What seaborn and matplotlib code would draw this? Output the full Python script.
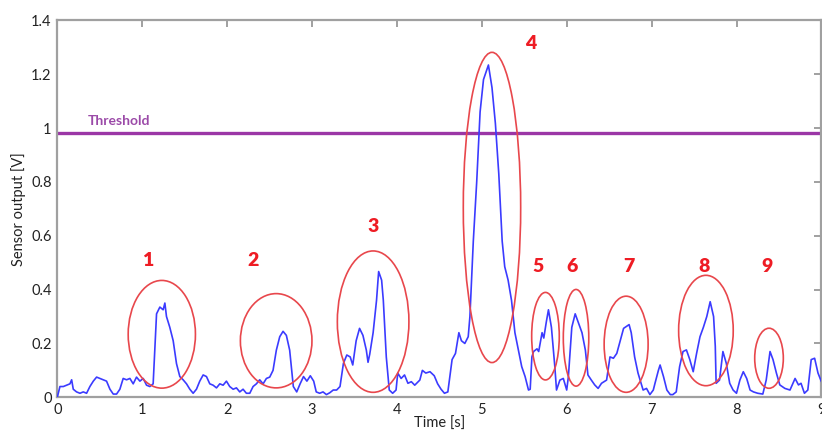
import matplotlib
matplotlib.use("Agg")
import matplotlib.pyplot as plt
from matplotlib.patches import Ellipse
import seaborn as sns
import pandas as pd

# ---- data ----
time_s = [
    0.000, 0.031, 0.071, 0.110, 0.149, 0.169, 0.188, 0.227, 0.267, 0.306, 0.345, 0.384, 0.424, 0.463,
    0.502, 0.541, 0.580, 0.620, 0.659, 0.698, 0.737, 0.776, 0.816, 0.855, 0.894, 0.933, 0.973, 1.012,
    1.051, 1.090, 1.129, 1.169, 1.208, 1.247, 1.267, 1.286, 1.325, 1.365, 1.404, 1.443, 1.482, 1.522,
    1.561, 1.600, 1.639, 1.678, 1.718, 1.757, 1.796, 1.835, 1.875, 1.914, 1.953, 1.992, 2.031, 2.071,
    2.110, 2.149, 2.188, 2.227, 2.267, 2.306, 2.345, 2.384, 2.424, 2.463, 2.502, 2.541, 2.580, 2.620,
    2.659, 2.698, 2.737, 2.780, 2.820, 2.860, 2.900, 2.940, 2.980, 3.020, 3.050, 3.090, 3.130, 3.170,
    3.210, 3.250, 3.290, 3.330, 3.370, 3.410, 3.450, 3.480, 3.520, 3.560, 3.600, 3.640, 3.660, 3.680,
    3.720, 3.760, 3.785, 3.820, 3.840, 3.875, 3.910, 3.950, 3.990, 4.010, 4.050, 4.090, 4.130, 4.170,
    4.210, 4.270, 4.300, 4.340, 4.390, 4.440, 4.480, 4.520, 4.560, 4.600, 4.650, 4.690, 4.730, 4.760,
    4.800, 4.840, 4.860, 4.900, 4.940, 4.980, 5.020, 5.078, 5.120, 5.160, 5.200, 5.240, 5.270, 5.310,
    5.350, 5.390, 5.430, 5.470, 5.510, 5.550, 5.570, 5.590, 5.610, 5.650, 5.670, 5.710, 5.730, 5.760,
    5.785, 5.820, 5.860, 5.880, 5.920, 5.960, 6.000, 6.020, 6.060, 6.100, 6.140, 6.180, 6.220, 6.250,
    6.290, 6.330, 6.370, 6.410, 6.470, 6.510, 6.550, 6.590, 6.630, 6.670, 6.735, 6.760, 6.800, 6.840,
    6.900, 6.940, 6.980, 7.020, 7.040, 7.080, 7.100, 7.140, 7.180, 7.220, 7.250, 7.290, 7.330, 7.370,
    7.410, 7.450, 7.490, 7.530, 7.570, 7.610, 7.650, 7.690, 7.730, 7.750, 7.760, 7.800, 7.840, 7.880,
    7.920, 7.960, 8.000, 8.040, 8.080, 8.120, 8.160, 8.200, 8.250, 8.310, 8.350, 8.395, 8.430, 8.470,
    8.510, 8.570, 8.630, 8.690, 8.730, 8.760, 8.800, 8.840, 8.880, 8.920, 8.960, 9.000,
]
output_v = [
    0.000, 0.040, 0.040, 0.045, 0.050, 0.065, 0.030, 0.020, 0.015, 0.020, 0.015, 0.040, 0.060, 0.075,
    0.070, 0.065, 0.060, 0.030, 0.012, 0.012, 0.030, 0.070, 0.065, 0.070, 0.050, 0.075, 0.060, 0.070,
    0.045, 0.040, 0.050, 0.310, 0.335, 0.325, 0.350, 0.300, 0.260, 0.210, 0.125, 0.077, 0.065, 0.050,
    0.030, 0.015, 0.030, 0.060, 0.083, 0.077, 0.050, 0.045, 0.035, 0.050, 0.045, 0.060, 0.040, 0.030,
    0.035, 0.020, 0.030, 0.015, 0.015, 0.040, 0.050, 0.065, 0.050, 0.070, 0.075, 0.100, 0.175, 0.225,
    0.245, 0.230, 0.175, 0.040, 0.020, 0.050, 0.077, 0.060, 0.080, 0.060, 0.020, 0.015, 0.020, 0.010,
    0.017, 0.027, 0.027, 0.040, 0.126, 0.157, 0.150, 0.120, 0.210, 0.256, 0.230, 0.175, 0.130, 0.160,
    0.240, 0.360, 0.467, 0.435, 0.360, 0.150, 0.027, 0.015, 0.027, 0.090, 0.070, 0.083, 0.052, 0.058,
    0.045, 0.064, 0.100, 0.090, 0.095, 0.080, 0.050, 0.030, 0.015, 0.020, 0.140, 0.163, 0.240, 0.210,
    0.200, 0.225, 0.300, 0.580, 0.800, 1.060, 1.180, 1.234, 1.150, 1.017, 0.830, 0.580, 0.485, 0.435,
    0.360, 0.240, 0.176, 0.114, 0.077, 0.027, 0.030, 0.150, 0.170, 0.180, 0.170, 0.240, 0.220, 0.280,
    0.325, 0.260, 0.114, 0.027, 0.064, 0.070, 0.027, 0.077, 0.260, 0.310, 0.275, 0.240, 0.175, 0.083,
    0.064, 0.046, 0.033, 0.052, 0.064, 0.150, 0.145, 0.163, 0.210, 0.256, 0.270, 0.240, 0.150, 0.090,
    0.027, 0.033, 0.010, 0.027, 0.052, 0.100, 0.120, 0.077, 0.027, 0.010, 0.010, 0.020, 0.114, 0.170,
    0.176, 0.140, 0.095, 0.163, 0.225, 0.260, 0.300, 0.355, 0.300, 0.190, 0.052, 0.064, 0.170, 0.126,
    0.052, 0.027, 0.015, 0.064, 0.095, 0.070, 0.027, 0.020, 0.015, 0.012, 0.064, 0.170, 0.140, 0.090,
    0.046, 0.033, 0.027, 0.070, 0.046, 0.052, 0.015, 0.027, 0.140, 0.145, 0.090, 0.058,
]

threshold_v = 0.98
threshold_label = "Threshold"

x_ticks = [0, 1, 2, 3, 4, 5, 6, 7, 8, 9]
y_ticks = [0, 0.2, 0.4, 0.6, 0.8, 1.0, 1.2, 1.4]
y_tick_labels = ["0", "0.2", "0.4", "0.6", "0.8", "1", "1.2", "1.4"]

# events: label, ellipse centre time, centre value, width (s), height (V), label time, label value
event_labels = ["1", "2", "3", "4", "5", "6", "7", "8", "9"]
event_cx = [1.231, 2.578, 3.720, 5.120, 5.750, 6.110, 6.700, 7.640, 8.383]
event_cy = [0.234, 0.210, 0.281, 0.705, 0.227, 0.221, 0.197, 0.248, 0.145]
event_w = [0.792, 0.843, 0.843, 0.676, 0.325, 0.300, 0.518, 0.643, 0.337]
event_h = [0.400, 0.350, 0.525, 1.152, 0.325, 0.359, 0.357, 0.410, 0.223]
event_lx = [1.07, 2.306, 3.725, 5.575, 5.658, 6.059, 6.730, 7.617, 8.355]
event_ly = [0.509, 0.509, 0.636, 1.314, 0.485, 0.485, 0.485, 0.485, 0.485]

# ---- plotting ----
sns.set_style("white")
plt.rcParams["font.family"] = ["Lato", "DejaVu Sans"]

fig = plt.figure(figsize=(8.22, 4.32), dpi=100)
ax = fig.add_axes([57.3 / 822, 34.7 / 432, (821.4 - 57.3) / 822, (397.3 - 20.3) / 432])

df = pd.DataFrame({"Time [s]": time_s, "Sensor output [V]": output_v})
sns.lineplot(data=df, x="Time [s]", y="Sensor output [V]", ax=ax,
             color="#3b3bff", linewidth=1.2, zorder=3)

ax.axhline(threshold_v, color="#9b36a6", linewidth=2.4, zorder=2)
ax.text(0.36, threshold_v + 0.045, threshold_label, color="#9b4aa8",
        fontsize=10, fontweight="bold", va="center", ha="left")

for lab, cx, cy, w, h, lx, ly in zip(event_labels, event_cx, event_cy, event_w, event_h,
                                     event_lx, event_ly):
    ax.add_patch(Ellipse((cx, cy), w, h, fill=False, edgecolor="#e8474c",
                         linewidth=1.2, zorder=4))
    ax.text(lx, ly, lab, color="#ee1c24", fontsize=14, fontweight="heavy",
            ha="center", va="center", zorder=5)

ax.set_xlim(0, 9)
ax.set_ylim(0, 1.4)
ax.set_xticks(x_ticks)
ax.set_xticklabels([str(t) for t in x_ticks])
ax.set_yticks(y_ticks)
ax.set_yticklabels(y_tick_labels)

for s in ax.spines.values():
    s.set_visible(True)
    s.set_color("#a0a0a0")
    s.set_linewidth(1.6)

ax.tick_params(axis="both", direction="in", length=5, width=1.2, color="#909090",
               labelsize=10.5, labelcolor="#222222", top=True, right=True,
               labeltop=False, labelright=False, pad=4)

ax.set_xlabel("Time [s]", fontsize=10.5, color="#222222", labelpad=0)
ax.set_ylabel("Sensor output [V]", fontsize=10.5, color="#222222", labelpad=4)

fig.savefig("out.png", dpi=100)
